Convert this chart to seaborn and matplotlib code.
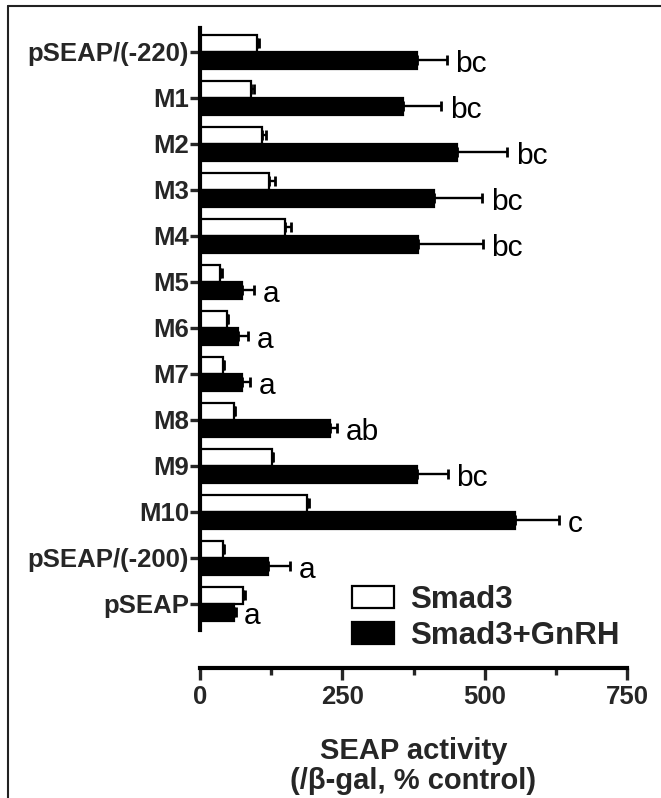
import matplotlib
matplotlib.use("Agg")
import matplotlib.pyplot as plt
import seaborn as sns
import pandas as pd
import numpy as np
from matplotlib.lines import Line2D
from matplotlib.ticker import MultipleLocator

categories = ['pSEAP/(-220)', 'M1', 'M2', 'M3', 'M4', 'M5', 'M6', 'M7', 'M8',
              'M9', 'M10', 'pSEAP/(-200)', 'pSEAP']
smad3 = [100, 89, 109, 121, 150, 36, 47, 41, 60, 126, 188, 41, 76]
smad3_err = [4, 5, 7, 11, 9, 2, 2, 2, 2, 2, 3, 2, 3]
gnrh = [382, 357, 452, 411, 383, 73, 66, 73, 228, 381, 553, 120, 60]
gnrh_err = [52, 67, 88, 85, 114, 22, 19, 15, 13, 55, 78, 38, 3]
letters = ['bc', 'bc', 'bc', 'bc', 'bc', 'a', 'a', 'a', 'ab', 'bc', 'c', 'a', 'a']
series = ['Smad3', 'Smad3+GnRH']
x_ticks = [0, 250, 500, 750]

sns.set_theme(style="white")
plt.rcParams['font.family'] = ['Liberation Sans', 'DejaVu Sans']

df = pd.DataFrame({
    'construct': categories * 2,
    'group': [series[0]] * len(categories) + [series[1]] * len(categories),
    'value': smad3 + gnrh,
})

W, H = 661, 798
fig = plt.figure(figsize=(W / 100, H / 100), dpi=100)
ax = fig.add_axes([200 / W, 1 - 630 / H, (627 - 200) / W, (630 - 28) / H])

sns.barplot(data=df, y='construct', x='value', hue='group', orient='h',
            palette={series[0]: 'white', series[1]: 'black'},
            edgecolor='black', linewidth=1.6, width=0.74, errorbar=None,
            legend=False, ax=ax)

bar_containers = list(ax.containers)
errs = [smad3_err, gnrh_err]
for cont, err in zip(bar_containers, errs):
    ys = [b.get_y() + b.get_height() / 2 for b in cont.patches]
    xs = [b.get_width() for b in cont.patches]
    ax.errorbar(xs, ys, xerr=[np.zeros(len(err)), err], fmt='none',
                ecolor='black', elinewidth=1.7, capsize=3.6, capthick=2.0)

# significance letters
gcont = bar_containers[1]
for b, e, lab in zip(gcont.patches, gnrh_err, letters):
    yc = b.get_y() + b.get_height() / 2
    ax.annotate(lab, xy=(b.get_width() + e, yc), xytext=(6, -8.5),
                textcoords='offset points', ha='left', va='baseline',
                fontsize=21.5, color='black', annotation_clip=False)

ax.set_xlim(0, 750)
ax.set_ylim(len(categories) - 1 + 0.57, -0.52)
ax.xaxis.set_major_locator(MultipleLocator(250))
ax.xaxis.set_minor_locator(MultipleLocator(125))
ax.set_xticks(x_ticks)
ax.set_xticklabels([str(t) for t in x_ticks])

for s in ['top', 'right']:
    ax.spines[s].set_visible(False)
for s in ['left', 'bottom']:
    ax.spines[s].set_linewidth(3)
    ax.spines[s].set_color('black')
ax.spines['bottom'].set_position(('outward', 27))

ax.tick_params(axis='y', which='major', length=7, width=2.4, direction='out',
               left=True, pad=1, labelsize=18.5)
ax.tick_params(axis='x', which='major', length=8.5, width=2.4, direction='out',
               bottom=True, pad=4, labelsize=18.5)
ax.tick_params(axis='x', which='minor', length=5, width=2.4, direction='out',
               bottom=True)
for lab in ax.get_yticklabels() + ax.get_xticklabels():
    lab.set_fontweight('bold')

ax.set_ylabel('')
ax.set_xlabel('SEAP activity\n(/β-gal, % control)', fontsize=21,
              fontweight='bold', labelpad=20, linespacing=1.1)

handles = [bar_containers[0].patches[0], bar_containers[1].patches[0]]
leg = ax.legend(handles, series, loc='upper left',
                bbox_to_anchor=(352 / W, 1 - 585 / H), bbox_transform=fig.transFigure,
                frameon=False, borderpad=0, borderaxespad=0,
                handlelength=1.35, handleheight=0.7, handletextpad=0.5,
                labelspacing=0.2, prop={'size': 22.5, 'weight': 'bold'})

# partial outer frame
fig.add_artist(Line2D([8 / W, 8 / W], [0, 1 - 6 / H], transform=fig.transFigure,
                      color='#222222', linewidth=1.5))
fig.add_artist(Line2D([8 / W, 1], [1 - 6 / H, 1 - 6 / H], transform=fig.transFigure,
                      color='#222222', linewidth=1.5))

fig.savefig('out.png', dpi=100)
